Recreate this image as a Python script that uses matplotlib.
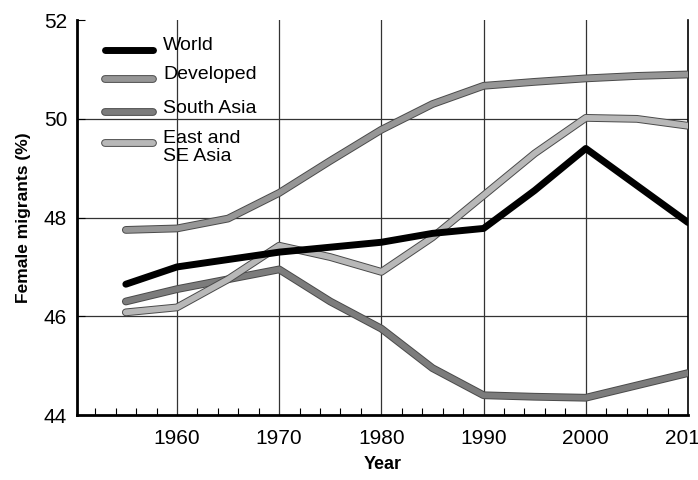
import matplotlib
matplotlib.use("Agg")
import matplotlib.pyplot as plt
import matplotlib.patheffects as pe
from matplotlib.ticker import MultipleLocator

plt.rcParams['font.family'] = ['Liberation Sans', 'DejaVu Sans']

# values
years = [1955, 1960, 1965, 1970, 1975, 1980, 1985, 1990, 1995, 2000, 2005, 2010]
world = [46.65, 47.0, 47.15, 47.3, 47.4, 47.5, 47.68, 47.78, 48.55, 49.4, 48.65, 47.9]
developed = [47.75, 47.78, 47.98, 48.5, 49.15, 49.78, 50.3, 50.67, 50.75, 50.82, 50.87, 50.9]
south_asia = [46.3, 46.55, 46.75, 46.95, 46.3, 45.75, 44.95, 44.4, 44.37, 44.35, 44.6, 44.85]
east_asia = [46.08, 46.18, 46.75, 47.43, 47.2, 46.9, 47.6, 48.45, 49.3, 50.02, 50.0, 49.86]

series_names = ['World', 'Developed', 'South Asia', 'East and\nSE Asia']
series_colors = ['black', '#969696', '#7c7c7c', '#b8b8b8']

fig = plt.figure(figsize=(6.98, 4.8), dpi=100)
ax = fig.add_axes([0.110, 0.1354, 0.8757, 0.8226])


def draw_series(ax, x, y, color, **kw):
    if color == 'black':
        ax.plot(x, y, color=color, lw=5, solid_capstyle='round', zorder=5, **kw)
    else:
        ax.plot(x, y, color=color, lw=4.2, solid_capstyle='round', zorder=4,
                path_effects=[pe.Stroke(linewidth=5.6, foreground='#4a4a4a'), pe.Normal()],
                **kw)


# draw order: grey lines under the world line
draw_series(ax, years, developed, series_colors[1])
draw_series(ax, years, south_asia, series_colors[2])
draw_series(ax, years, east_asia, series_colors[3])
draw_series(ax, years, world, series_colors[0])

# grid lines
for yv in [46, 48, 50]:
    ax.axhline(yv, color='#333333', lw=0.9, zorder=1)
for xv in [1960, 1970, 1980, 1990, 2000]:
    ax.axvline(xv, color='#333333', lw=0.9, zorder=1)

ax.set_xlim(1950.2, 2010)
ax.set_ylim(44, 52)
ax.set_xticks([1960, 1970, 1980, 1990, 2000, 2010])
ax.xaxis.set_minor_locator(MultipleLocator(2))
ax.set_yticks([44, 46, 48, 50, 52])
ax.tick_params(axis='x', which='major', direction='in', length=0, pad=10, labelsize=15)
ax.tick_params(axis='x', which='minor', direction='in', length=5, width=0.8)
ax.tick_params(axis='y', direction='in', length=6, width=0.8, pad=7, labelsize=15)

ax.spines['top'].set_visible(False)
ax.spines['left'].set_linewidth(2)
ax.spines['bottom'].set_linewidth(2)
ax.spines['right'].set_linewidth(1.2)

ax.set_xlabel('Year', fontsize=13, fontweight='bold', labelpad=6)
ax.set_ylabel('Female migrants (%)', fontsize=12.5, fontweight='bold', labelpad=9)

# hand-placed legend (handle sits on first text line)
leg_rows = [0.925, 0.851, 0.767, 0.690]
for name, color, yr in zip(series_names, series_colors, leg_rows):
    draw_series(ax, [0.046, 0.125], [yr, yr], color, transform=ax.transAxes)
    ax.text(0.141, yr + 0.032, name, transform=ax.transAxes, fontsize=14,
            va='top', ha='left', linespacing=1.1, zorder=6)

fig.savefig('out.png', dpi=100)
